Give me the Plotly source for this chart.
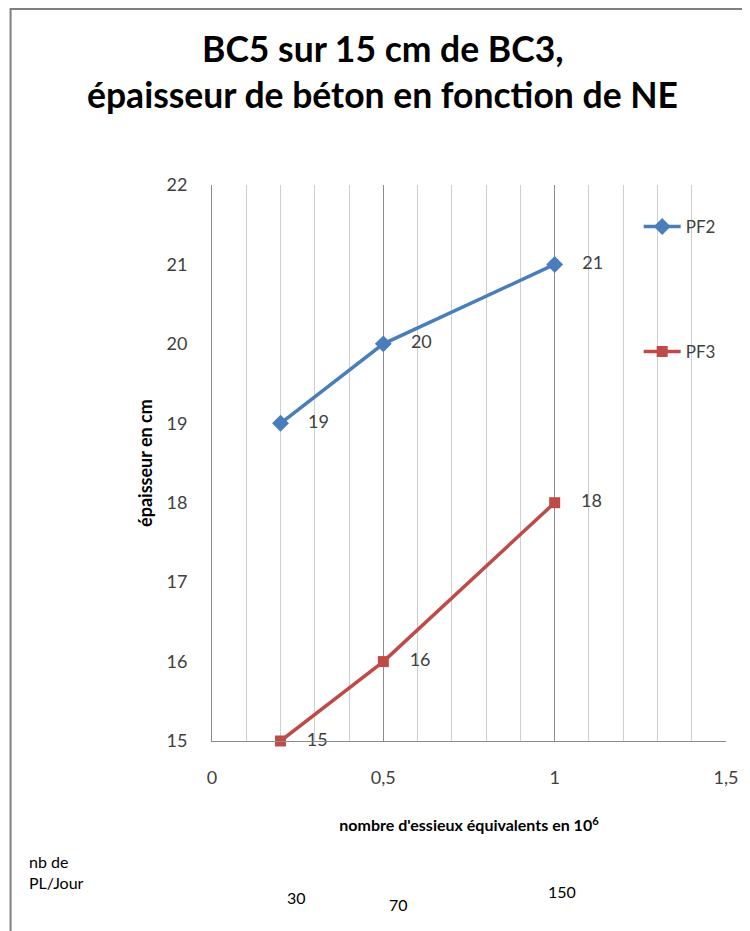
import plotly.graph_objects as go

# Data
ne = [0.2, 0.5, 1.0]
pf2 = [19, 20, 21]
pf3 = [15, 16, 18]
pl_jour = [30, 70, 150]
x_ticks = [0, 0.5, 1, 1.5]
x_tick_labels = ["0", "0,5", "1", "1,5"]
y_ticks = [15, 16, 17, 18, 19, 20, 21, 22]
title_lines = ["BC5 sur 15 cm de BC3,", "épaisseur de béton en fonction de NE"]

FONT = "Lato"
BLUE = "#4A7EBB"
RED = "#BE4B48"
TXT = "#404040"

OFF = 8  # page body margin
W, H = 750 - OFF, 931 - OFF
# plot area in window pixels: 212..730 x, 185..741 y
L, R, T, B = 212 - OFF, W - (730 - OFF), 185 - OFF, H - (741 - OFF)
pw, ph = W - L - R, H - T - B


def px_x(p):  # window pixel -> paper
    return (p - OFF - L) / pw


def px_y(p):
    return (H - B - (p - OFF)) / ph


fig = go.Figure()
fig.add_trace(go.Scatter(
    x=ne, y=pf2, name="PF2", mode="lines+markers+text",
    line=dict(color=BLUE, width=3.5),
    marker=dict(symbol="diamond", size=13, color=BLUE),
    texttemplate="    %{y}", textposition="middle right",
    textfont=dict(family=FONT, size=18, color=TXT),
    legend="legend", cliponaxis=False,
))
fig.add_trace(go.Scatter(
    x=ne, y=pf3, name="PF3", mode="lines+markers+text",
    line=dict(color=RED, width=3.5),
    marker=dict(symbol="square", size=11, color=RED),
    texttemplate="    %{y}", textposition="middle right",
    textfont=dict(family=FONT, size=18, color=TXT),
    legend="legend2", cliponaxis=False,
))

annotations = []
for txt, yc in zip(title_lines, [48, 95]):
    annotations.append(dict(
        text="<b>" + txt + "</b>",
        xref="paper", yref="paper", x=px_x(384), y=px_y(yc),
        xanchor="center", yanchor="middle", showarrow=False,
        font=dict(family=FONT, size=35.5, color="#000000"),
    ))
annotations.append(dict(
    text="nb de<br>PL/Jour", xref="paper", yref="paper",
    x=px_x(26), y=px_y(872), xanchor="left", yanchor="middle",
    align="left", showarrow=False,
    font=dict(family=FONT, size=16, color="#000000"),
))
xshifts = [16, 15, 7]
ypos = [897, 904, 891]
for xv, val, xs, yp in zip(ne, pl_jour, xshifts, ypos):
    annotations.append(dict(
        text=str(val), xref="x", yref="paper", x=xv, xshift=xs, y=px_y(yp),
        xanchor="center", yanchor="middle", showarrow=False,
        font=dict(family=FONT, size=16, color="#000000"),
    ))

fig.update_layout(
    width=W, height=H,
    margin=dict(l=L, r=R, t=T, b=B),
    paper_bgcolor="white", plot_bgcolor="white",
    font=dict(family=FONT, size=18, color=TXT),
    annotations=annotations,
    showlegend=True,
    legend=dict(x=px_x(642), y=px_y(227), xanchor="left", yanchor="middle",
                bgcolor="rgba(0,0,0,0)", font=dict(family=FONT, size=17, color=TXT),
                itemwidth=37),
    legend2=dict(x=px_x(642), y=px_y(352), xanchor="left", yanchor="middle",
                 bgcolor="rgba(0,0,0,0)", font=dict(family=FONT, size=17, color=TXT),
                 itemwidth=37),
    shapes=[dict(type="rect", xref="paper", yref="paper",
                 x0=px_x(9), x1=px_x(800), y0=px_y(980), y1=px_y(9),
                 line=dict(color="#7F7F7F", width=2), layer="below")],
)

fig.update_xaxes(
    range=[0, 1.5], tickvals=x_ticks, ticktext=x_tick_labels,
    showgrid=True, gridcolor="#8C8C8C", gridwidth=1,
    minor=dict(dtick=0.1, tick0=0, showgrid=True, gridcolor="#CFCFCF", gridwidth=1),
    showline=True, linecolor="#8C8C8C", linewidth=1,
    zeroline=False, ticks="", ticklabelstandoff=20,
    tickfont=dict(family=FONT, size=18, color=TXT),
    title=dict(text="<b>nombre d'essieux équivalents en 10<sup>6</sup></b>",
               font=dict(family=FONT, size=16, color="#000000"), standoff=33),
)
fig.update_yaxes(
    range=[15, 22], tickvals=y_ticks,
    showgrid=False, zeroline=False,
    showline=True, linecolor="#8C8C8C", linewidth=1,
    ticks="", ticklabelstandoff=20,
    tickfont=dict(family=FONT, size=18, color=TXT),
    title=dict(text="<b>épaisseur en cm</b>",
               font=dict(family=FONT, size=18, color="#000000"), standoff=9),
)

fig.write_html("out.html")
